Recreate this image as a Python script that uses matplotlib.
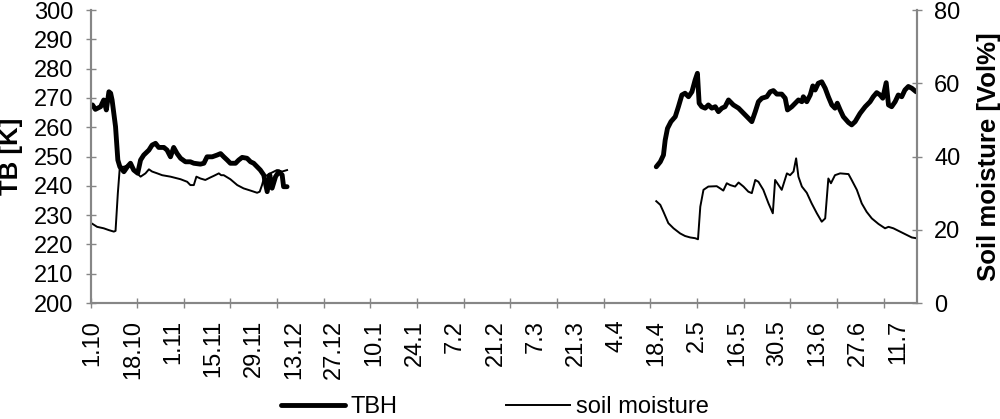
"""
Brightness temperature (TBH) and soil moisture over one season,
1 Oct to mid July, with the winter gap left empty.

Writes out.png (1000x419).
"""

import matplotlib

matplotlib.use("Agg")

import matplotlib.pyplot as plt  # noqa: E402
import numpy as np  # noqa: E402

plt.rcParams["font.family"] = ["Liberation Sans", "DejaVu Sans"]

# Days counted from 1.10 (the first axis label).
DATE_LABELS = [
    "1.10", "18.10", "1.11", "15.11", "29.11", "13.12", "27.12", "10.1",
    "24.1", "7.2", "21.2", "7.3", "21.3", "4.4", "18.4", "2.5", "16.5",
    "30.5", "13.6", "27.6", "11.7",
]

# --- autumn segment --------------------------------------------------------
TBH_AUTUMN_DAY = [
    0.0, 1.0, 2.8, 3.9, 4.8, 5.7, 6.3, 6.8, 8.0, 8.8, 9.5, 10.9, 12.1, 13.2,
    14.3, 15.7, 16.7, 17.8, 19.6, 20.7, 21.9, 23.0, 24.8, 25.9, 27.1, 28.2,
    29.4, 30.6, 32.3, 34.0, 35.2, 37.5, 38.7, 39.8, 41.6, 43.3, 44.5, 45.6,
    46.8, 47.9, 49.7, 50.8, 52.0, 53.7, 54.9, 56.0, 57.2, 58.3, 59.5, 60.7,
    61.6, 62.4, 63.6, 64.7, 65.9, 66.4, 67.6,
]
TBH_AUTUMN = [
    267.6, 266.1, 267.0, 269.3, 265.9, 272.1, 271.6, 269.3, 260.2, 248.8,
    246.5, 244.8, 246.5, 247.7, 245.4, 244.3, 248.8, 250.5, 252.2, 253.9,
    254.5, 253.1, 253.1, 252.2, 249.9, 253.1, 251.0, 249.4, 248.2, 248.2,
    247.7, 247.4, 247.7, 249.9, 249.9, 250.5, 251.0, 249.9, 248.8, 247.7,
    247.7, 248.8, 249.7, 249.4, 248.2, 247.7, 246.5, 245.4, 243.7, 238.0,
    243.7, 239.2, 243.1, 244.8, 243.7, 239.7, 239.7,
]

SM_AUTUMN_DAY = [
    0.0, 1.6, 3.9, 5.7, 7.4, 8.0, 8.8, 9.5, 10.9, 12.6, 14.3, 16.7, 18.4,
    19.6, 20.7, 22.5, 24.2, 27.1, 30.6, 32.9, 34.0, 35.2, 36.1, 37.5, 39.2,
    41.0, 42.1, 43.9, 44.7, 45.6, 47.9, 50.3, 52.5, 54.9, 57.2, 58.1, 58.9,
    59.7, 60.7, 61.8, 64.1, 65.9, 67.6,
]
SM_AUTUMN = [
    21.6, 20.8, 20.4, 19.9, 19.5, 19.7, 30.0, 37.2, 37.2, 37.7, 36.3, 34.5,
    35.4, 36.5, 35.9, 35.4, 34.9, 34.5, 33.8, 33.1, 32.2, 32.2, 34.5, 34.0,
    33.6, 34.3, 34.7, 35.4, 34.9, 34.9, 33.8, 32.2, 31.3, 30.7, 30.1, 30.4,
    32.2, 34.5, 34.9, 35.4, 36.3, 35.9, 36.3,
]

# --- spring / summer segment -----------------------------------------------
TBH_SPRING_DAY = [
    195.9, 197.3, 198.4, 199.0, 199.8, 201.0, 202.5, 203.6, 204.8, 205.9,
    207.1, 208.3, 209.4, 210.2, 210.8, 211.7, 212.9, 214.0, 215.2, 216.4,
    217.5, 218.7, 219.8, 221.0, 222.7, 224.5, 226.8, 229.1, 230.3, 231.4,
    232.6, 234.3, 235.5, 236.6, 237.8, 239.5, 240.7, 241.5, 243.0, 244.2,
    245.3, 246.5, 247.0, 248.2, 249.4, 250.3, 251.1, 252.2, 253.4, 254.6,
    255.7, 256.9, 258.0, 258.8, 259.8, 260.9, 262.7, 263.8, 265.0, 266.7,
    268.5, 270.2, 271.3, 272.5, 273.7, 274.6, 275.8, 276.6, 277.7, 278.9,
    280.0, 281.2, 282.3, 283.5, 284.7, 286.2,
]
TBH_SPRING = [
    246.5, 248.2, 250.5, 255.6, 259.6, 261.9, 263.6, 267.0, 271.0, 271.6,
    270.4, 272.1, 276.1, 278.4, 268.2, 267.0, 266.5, 267.6, 266.5, 267.0,
    265.3, 266.5, 267.0, 269.3, 267.6, 266.5, 264.2, 261.9, 265.3, 268.7,
    269.9, 270.4, 272.1, 272.5, 271.3, 271.3, 269.9, 265.9, 267.0, 268.2,
    269.3, 268.7, 270.4, 268.7, 271.0, 274.1, 272.7, 275.0, 275.5, 273.3,
    270.4, 267.6, 266.5, 268.2, 265.9, 263.6, 261.6, 260.8, 261.9, 264.7,
    267.0, 268.7, 270.4, 271.8, 271.0, 269.9, 275.2, 267.6, 267.0, 268.7,
    271.0, 270.4, 272.7, 273.9, 273.3, 272.1,
]

SM_SPRING_DAY = [
    195.9, 197.3, 198.4, 200.1, 201.9, 204.2, 205.9, 207.7, 209.4, 210.4,
    211.2, 212.3, 214.0, 216.9, 218.1, 219.2, 220.4, 221.6, 223.3, 224.5,
    226.2, 227.9, 229.1, 230.3, 231.4, 233.1, 234.9, 236.4, 237.2, 238.4,
    239.5, 241.3, 242.4, 243.6, 244.5, 245.3, 246.5, 248.2, 249.9, 251.7,
    253.4, 254.6, 255.7, 256.6, 258.0, 259.8, 262.7, 263.8, 265.6, 267.3,
    269.0, 270.8, 273.1, 275.4, 276.6, 278.3, 280.6, 282.9, 284.7, 286.2,
]
SM_SPRING = [
    27.8, 26.8, 24.9, 21.8, 20.4, 19.0, 18.3, 17.9, 17.7, 17.4, 26.3, 30.9,
    31.8, 31.9, 31.3, 30.7, 32.7, 32.2, 31.8, 32.9, 31.8, 30.4, 30.0, 33.6,
    33.1, 30.9, 27.2, 24.5, 33.6, 32.2, 30.9, 35.4, 34.9, 35.9, 39.5, 34.5,
    31.8, 30.1, 27.2, 24.5, 22.2, 23.1, 34.0, 32.7, 34.9, 35.4, 35.2, 33.6,
    30.9, 27.2, 24.9, 23.1, 21.6, 20.4, 20.8, 20.4, 19.5, 18.6, 17.9, 17.7,
]

AXIS_GREY = "#868686"
FONT_SIZE = 17
LABEL_SIZE = 18.5


def style_axis(ax):
    ax.spines["top"].set_visible(False)
    for side in ("left", "right", "bottom"):
        ax.spines[side].set_color(AXIS_GREY)
        ax.spines[side].set_linewidth(1.5)
    ax.tick_params(axis="y", which="both", direction="inout", length=7,
                   width=1, color=AXIS_GREY, labelsize=FONT_SIZE, pad=9)


def main():
    fig = plt.figure(figsize=(10.0, 4.19), dpi=100)
    ax = fig.add_axes([0.0905, 0.2768, 0.8262, 0.6993])
    ax2 = ax.twinx()

    # TB axis (left)
    ax.plot(TBH_AUTUMN_DAY, TBH_AUTUMN, color="black", lw=3.5,
            solid_joinstyle="round", solid_capstyle="round", label="TBH")
    ax.plot(TBH_SPRING_DAY, TBH_SPRING, color="black", lw=3.5,
            solid_joinstyle="round", solid_capstyle="round")
    ax.set_ylim(200, 300)
    ax.set_yticks(np.arange(200, 301, 10))
    ax.set_ylabel("TB [K]", fontsize=LABEL_SIZE, fontweight="bold")
    ax.yaxis.set_label_coords(-0.082, 0.5)

    # soil moisture axis (right)
    ax2.plot(SM_AUTUMN_DAY, SM_AUTUMN, color="black", lw=1.4,
             label="soil moisture")
    ax2.plot(SM_SPRING_DAY, SM_SPRING, color="black", lw=1.4)
    ax2.set_ylim(0, 80)
    ax2.set_yticks(np.arange(0, 81, 20))
    ax2.set_ylabel("Soil moisture [Vol%]", fontsize=LABEL_SIZE,
                   fontweight="bold")
    ax2.yaxis.set_label_coords(1.073, 0.5)

    # date axis: labels every 14 days, tick marks on a coarser spacing
    x_min, x_max = -0.7, 286.4
    ax.set_xlim(x_min, x_max)
    ax.set_xticks(np.arange(len(DATE_LABELS)) * 14)
    ax.set_xticklabels(DATE_LABELS, rotation=90, fontsize=FONT_SIZE)
    ax.set_xticks(x_min + 16.21 * np.arange(18), minor=True)
    ax.tick_params(axis="x", which="major", length=0, pad=12)
    ax.tick_params(axis="x", which="minor", direction="inout", length=7,
                   width=1, color=AXIS_GREY)

    style_axis(ax)
    style_axis(ax2)

    handles = ax.get_lines()[:1] + ax2.get_lines()[:1]
    fig.legend(handles, [h.get_label() for h in handles], loc="center",
               bbox_to_anchor=(0.495, 0.028), ncol=2, frameon=False,
               fontsize=FONT_SIZE, handlelength=2.7, handletextpad=0.25,
               columnspacing=4.6, borderpad=0)

    fig.savefig("out.png", dpi=100)
    plt.close(fig)


if __name__ == "__main__":
    main()
